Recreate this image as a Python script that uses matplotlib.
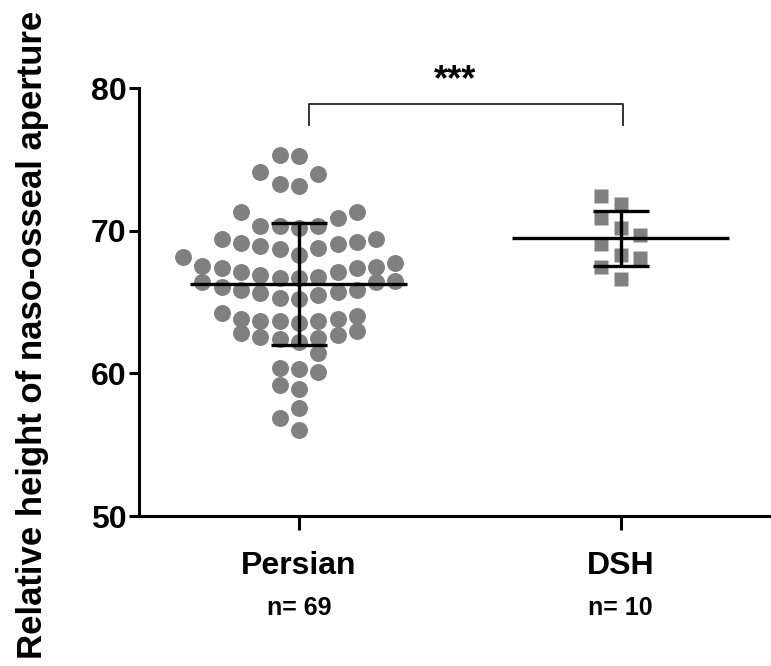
import numpy as np
import matplotlib.pyplot as plt

plt.rcParams['font.family'] = ['Liberation Sans', 'DejaVu Sans']
plt.rcParams['font.weight'] = 'bold'

groups = ["Persian", "DSH"]
counts = [69, 10]

# relative height of naso-osseal aperture, one value per animal
persian = [75.2, 75.3, 74.1, 74.0, 73.3, 73.15, 71.3, 71.3, 70.9,
           70.3, 70.2, 70.3, 70.35,
           69.4, 69.2, 69.06, 68.8, 68.74, 68.9, 69.15, 69.4,
           68.3, 68.17,
           67.5, 67.4, 67.36, 67.43, 67.75,
           67.08, 66.7, 67.1, 66.65, 66.9, 66.77,
           66.4, 66.07, 65.84, 65.6, 65.3, 65.23, 65.5, 65.7, 65.87, 66.4, 66.5,
           64.2, 63.8, 63.7, 63.65, 63.55, 63.7, 63.8, 64.05,
           62.7, 62.5, 62.2, 62.96, 62.38, 62.57, 62.85,
           61.45, 60.3, 60.1, 60.4, 58.9, 59.2, 57.6, 56.9, 56.0]
dsh = [72.45, 71.9, 70.86, 70.16, 69.7, 69.1, 68.3, 68.06, 67.47, 66.6]


def binned_scatter(values, step, width, origin):
    # group values into horizontal bands, then spread each band out from the
    # centre: lowest value in the middle, the rest alternating left / right
    values = np.asarray(values)
    band = np.floor((values - origin) / width)
    offs = np.zeros(len(values))
    for b in np.unique(band):
        idx = np.where(band == b)[0]
        idx = idx[np.argsort(values[idx], kind='stable')]
        for j, k in enumerate(idx):
            col = (j + 1) // 2
            offs[k] = (-col if j % 2 else col) * step
    return offs


fig = plt.figure(figsize=(7.71, 6.66), dpi=100)
ax = fig.add_axes([139 / 771, 150 / 666, 632 / 771, 428 / 666])

grey = '#808080'
step = 0.06
data = [persian, dsh]
markers = [('o', 12.2), ('s', 9.6)]

for i, vals in enumerate(data):
    m, ms = markers[i]
    x = i + binned_scatter(vals, step, 1.6, 66.6)
    ax.plot(x, vals, ls='none', marker=m, ms=ms, color=grey, mec='none', zorder=2)

    mean = np.mean(vals)
    sd = np.std(vals, ddof=1)
    ax.hlines(mean, i - 0.337, i + 0.337, color='black', lw=2.4, zorder=3)
    ax.vlines(i, mean - sd, mean + sd, color='black', lw=2.4, zorder=3)
    ax.hlines([mean - sd, mean + sd], i - 0.087, i + 0.087, color='black', lw=2.4, zorder=3)

# significance bracket
ax.plot([0.031, 0.031, 1.007, 1.007], [77.4, 78.85, 78.85, 77.4], color='#333333', lw=1.4,
        clip_on=False)
ax.text(0.485, 79.3, '***', ha='center', va='bottom', fontsize=26, fontweight='bold')

ax.set_xlim(-0.497, 1.467)
ax.set_ylim(50, 80)
ax.set_yticks([50, 60, 70, 80])
ax.set_xticks([0, 1])
ax.set_xticklabels(groups)

for side in ['top', 'right']:
    ax.spines[side].set_visible(False)
for side in ['left', 'bottom']:
    ax.spines[side].set_linewidth(2.2)

ax.tick_params(axis='y', length=7, width=2.2, pad=2, labelsize=23)
ax.tick_params(axis='x', length=10, width=2.2, pad=15, labelsize=23)

for i, n in enumerate(counts):
    ax.text(i, -0.231, f'n= {n}', transform=ax.get_xaxis_transform(),
            ha='center', va='baseline', fontsize=18, fontweight='bold')

fig.text(33 / 771, 1 - 335 / 666, 'Relative height of naso-osseal aperture',
         rotation=90, ha='center', va='center', fontsize=25, fontweight='bold')

fig.savefig('out.png', dpi=100)
